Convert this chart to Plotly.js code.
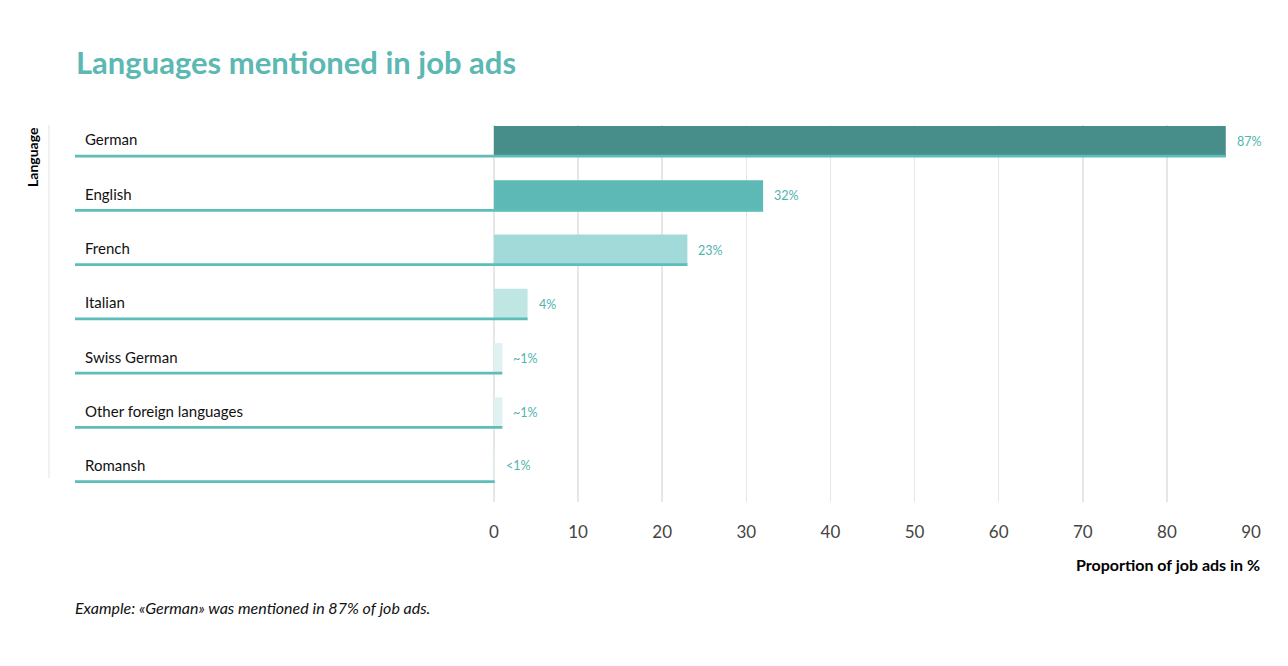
<!DOCTYPE html>
<html>
<head>
<meta charset="utf-8">
<script src="https://cdn.plot.ly/plotly-3.0.1.min.js"></script>
<style>html,body{margin:0;padding:0;background:#fff;}#chart{width:1288px;height:666px;}</style>
</head>
<body>
<div id="chart"></div>
<script>
// Data
const languages = ["German", "English", "French", "Italian", "Swiss German", "Other foreign languages", "Romansh"];
const shares = [87, 32, 23, 4, 1, 1, 0.1];
const shareLabels = ["87%", "32%", "23%", "4%", "~1%", "~1%", "<1%"];
const barColors = ["#478D8A", "#5DB9B5", "#A1DAD8", "#C0E6E4", "#DFF2F1", "#DFF2F1", "#DFF2F1"];
const tickValues = [0, 10, 20, 30, 40, 50, 60, 70, 80, 90];

const XMIN = -49.8;
const XMAX = 90;
const lineColor = "#5DBDB8";
const fontFam = "Lato, 'Open Sans', sans-serif";

const barTrace = {
  type: "bar", orientation: "h",
  y: languages, x: shares,
  marker: {color: barColors, line: {width: 0}},
  width: 0.57, offset: -0.285,
  hoverinfo: "skip", showlegend: false
};
const underline = {
  type: "bar", orientation: "h",
  y: languages, x: shares.map(v => v - XMIN), base: XMIN,
  marker: {color: lineColor, line: {width: 0}},
  width: 0.05, offset: 0.245,
  hoverinfo: "skip", showlegend: false
};

const annotations = [];
languages.forEach((lang, i) => {
  annotations.push({
    xref: "x", yref: "y", x: XMIN, y: lang, xshift: 8, yshift: 2,
    xanchor: "left", yanchor: "middle", showarrow: false,
    text: lang, font: {family: fontFam, size: 15, color: "#111"}
  });
  annotations.push({
    xref: "x", yref: "y", x: shares[i], y: lang, xshift: 9, yshift: i === 6 ? 2 : 0,
    xanchor: "left", yanchor: "middle", showarrow: false,
    text: shareLabels[i], font: {family: fontFam, size: 12.5, color: "#4FB3AE"}
  });
});
annotations.push({
  xref: "paper", yref: "paper", x: 1, y: 0, xanchor: "right", yanchor: "middle",
  xshift: 11, yshift: -62, showarrow: false,
  text: "<b>Proportion of job ads in %</b>", font: {family: fontFam, size: 16, color: "#000"}
});
annotations.push({
  xref: "paper", yref: "paper", x: 0, y: 0, xanchor: "left", yanchor: "middle",
  xshift: -2, yshift: -105, showarrow: false,
  text: "<i>Example: «German» was mentioned in 87% of job ads.</i>", font: {family: fontFam, size: 16, color: "#111"}
});
annotations.push({
  xref: "paper", yref: "paper", x: 0, y: 1, xanchor: "center", yanchor: "top",
  xshift: -43, yshift: 0, showarrow: false, textangle: -90,
  text: "<b>Language</b>", font: {family: fontFam, size: 14, color: "#000"}
});
annotations.push({
  xref: "paper", yref: "paper", x: 0, y: 1, xanchor: "left", yanchor: "middle",
  xshift: -1, yshift: 63, showarrow: false,
  text: "<b>Languages mentioned in job ads</b>", font: {family: fontFam, size: 31, color: "#5BB8B3"}
});

const layout = {
  width: 1288, height: 666,
  margin: {l: 75, r: 37, t: 125, b: 164},
  paper_bgcolor: "#fff", plot_bgcolor: "#fff",
  barmode: "overlay",
  xaxis: {
    range: [XMIN, XMAX], tickvals: tickValues, ticktext: tickValues.map(String),
    showgrid: true, gridcolor: "#E6E6E6", gridwidth: 1.5, zeroline: false,
    showline: false, ticks: "", ticklabelstandoff: 18,
    tickfont: {family: fontFam, size: 17, color: "#444"}, fixedrange: true
  },
  yaxis: {
    type: "category", categoryorder: "array", categoryarray: languages,
    range: [6.645, -0.304], showticklabels: false, showgrid: false, zeroline: false,
    showline: false, ticks: "", fixedrange: true
  },
  shapes: [{
    type: "line", xref: "paper", yref: "paper",
    x0: -26 / 1176, x1: -26 / 1176, y0: 1, y1: (502 - 478) / 377,
    line: {color: "#E3E3E3", width: 1}
  }],
  annotations: annotations
};

Plotly.newPlot("chart", [barTrace, underline], layout, {displayModeBar: false, staticPlot: true});
</script>
</body>
</html>
